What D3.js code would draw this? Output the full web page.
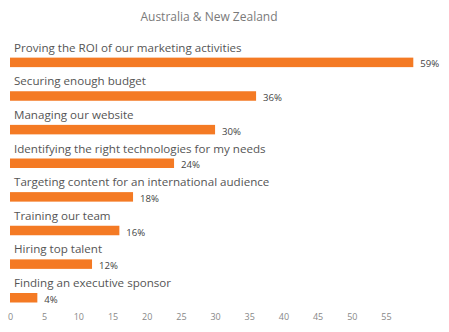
<!DOCTYPE html>
<html><head><meta charset="utf-8">
<script src="https://cdn.jsdelivr.net/npm/d3@7"></script>
<style>body{margin:0;background:#fff;}svg{display:block;font-family:"Open Sans",sans-serif;}</style>
</head><body><svg id="c" width="449" height="332"></svg>
<script>
const title = "Australia & New Zealand";
const categories = ["Proving the ROI of our marketing activities","Securing enough budget","Managing our website","Identifying the right technologies for my needs","Targeting content for an international audience","Training our team","Hiring top talent","Finding an executive sponsor"];
const values = [59,36,30,24,18,16,12,4];
const ticks = [0,5,10,15,20,25,30,35,40,45,50,55];

const svg = d3.select("#c");
const x = d3.scaleLinear().domain([0,59]).range([10,413.3]);
const y = d3.scaleBand().domain(categories).range([40.5,309.5]).paddingInner(0).paddingOuter(0);
const barH = 9.5;

svg.append("text").attr("x",209).attr("y",16.5).attr("text-anchor","middle").attr("dominant-baseline","central")
  .attr("font-size",12).attr("fill","#7a7a7a").text(title);

const g = svg.append("g");
categories.forEach((c,i)=>{
  const top = y(c) + y.bandwidth() - barH - 7;
  g.append("text").attr("x",14).attr("y",top-10.5).attr("dominant-baseline","central")
    .attr("font-size",11.6).attr("fill","#555").text(c);
  g.append("rect").attr("x",x(0)).attr("y",top).attr("width",x(values[i])-x(0)).attr("height",barH).attr("fill","#f47a24");
  g.append("text").attr("x",x(values[i])+7).attr("y",top+barH/2+1.5).attr("dominant-baseline","central")
    .attr("font-size",9.6).attr("fill","#444").text(values[i]+"%");
});

const ax = svg.append("g").attr("transform","translate(0,314)")
  .call(d3.axisBottom(x).tickValues(ticks).tickSize(0).tickPadding(0).tickFormat(d3.format("d")));
ax.select(".domain").remove();
ax.selectAll("text").attr("font-size",9).attr("fill","#888").attr("font-family","Open Sans, sans-serif").attr("dy","0.71em");
</script></body></html>
